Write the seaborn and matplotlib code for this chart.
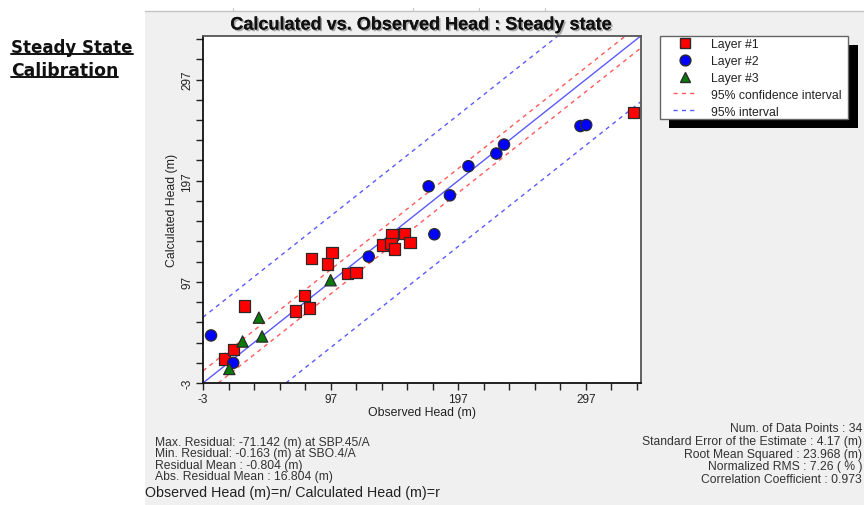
import numpy as np
import pandas as pd
import matplotlib
matplotlib.use("Agg")
import matplotlib.pyplot as plt
import seaborn as sns
from matplotlib.patches import Rectangle
from matplotlib.lines import Line2D
import matplotlib.patheffects as pe

# ---------------- data ----------------
layer1_obs = [13.6, 20.7, 29.3, 69.4, 76.7, 80.3, 81.9, 94.4, 98.0, 110.5, 117.0,
              137.9, 145.2, 144.4, 147.0, 154.8, 159.3, 334.5]
layer1_calc = [20.8, 29.8, 73.2, 68.2, 83.7, 71.2, 119.9, 114.5, 126.1, 105.3, 106.3,
               133.4, 144.0, 135.1, 129.4, 145.0, 136.1, 264.2]
layer2_obs = [3.3, 20.7, 126.9, 178.3, 173.8, 190.5, 205.0, 226.9, 232.9, 292.8, 297.3]
layer2_calc = [44.0, 16.9, 121.9, 144.0, 191.4, 182.5, 211.3, 223.8, 232.7, 251.0, 252.0]
layer3_obs = [17.6, 28.0, 40.8, 43.3, 97.0]
layer3_calc = [10.9, 38.0, 61.6, 43.0, 98.6]

layer_names = ["Layer #1", "Layer #2", "Layer #3"]
conf_offset = 12.0      # 95% confidence interval half-width
pred_offset = 65.0      # 95% interval half-width
tick_labels = ["-3", "97", "197", "297"]

stats_left = ["Max. Residual: -71.142 (m) at SBP.45/A",
              "Min. Residual: -0.163 (m) at SBO.4/A",
              "Residual Mean : -0.804 (m)",
              "Abs. Residual Mean : 16.804 (m)"]
stats_right = ["Num. of Data Points : 34",
               "Standard Error of the Estimate : 4.17 (m)",
               "Root Mean Squared : 23.968 (m)",
               "Normalized RMS : 7.26 ( % )",
               "Correlation Coefficient : 0.973"]

df = pd.DataFrame({
    "obs": layer1_obs + layer2_obs + layer3_obs,
    "calc": layer1_calc + layer2_calc + layer3_calc,
    "layer": [layer_names[0]] * len(layer1_obs) + [layer_names[1]] * len(layer2_obs)
             + [layer_names[2]] * len(layer3_obs),
})

# ---------------- style ----------------
sns.set_style("ticks")
plt.rcParams["font.family"] = ["Liberation Sans", "DejaVu Sans"]

W, H = 864, 506
fx = lambda px: px / W
fy = lambda py: 1 - py / H

fig = plt.figure(figsize=(8.64, 5.06), dpi=100, facecolor="white")

# gray panel
fig.add_artist(Rectangle((fx(145), 0), 1 - fx(145), fy(12), transform=fig.transFigure,
                         facecolor="#f0f0f0", edgecolor="none", zorder=-10))
fig.add_artist(Line2D([fx(145), 1], [fy(12), fy(12)], transform=fig.transFigure,
                      color="#c4c4c4", lw=1, zorder=-9))
for tx in [233, 413, 479, 545]:
    fig.add_artist(Line2D([fx(tx), fx(tx)], [fy(12), fy(9)], transform=fig.transFigure,
                          color="#c4c4c4", lw=0.8, zorder=-9))

ax = fig.add_axes([fx(203), fy(384), (640.7 - 203) / W, (384 - 37) / H])
ax.set_facecolor("white")

lo, hi = -3, 340
ax.set_xlim(lo, hi)
ax.set_ylim(lo, hi)

dash = (0, (3, 3))
ax.axline((0, 0), slope=1, color="#5a5aff", lw=1.0, zorder=2)
for c in (conf_offset, -conf_offset):
    ax.axline((0, c), slope=1, color="#ff5a5a", lw=1.0, ls=dash, zorder=2)
for c in (pred_offset, -pred_offset):
    ax.axline((0, c), slope=1, color="#5a5aff", lw=1.0, ls=dash, zorder=2)

palette = {layer_names[0]: "#ff0000", layer_names[1]: "#0000ff", layer_names[2]: "#0a7a0a"}
markers = {layer_names[0]: "s", layer_names[1]: "o", layer_names[2]: "^"}
sns.scatterplot(data=df, x="obs", y="calc", hue="layer", style="layer",
                palette=palette, markers=markers, s=66, edgecolor="#2a2a2a",
                linewidth=0.9, legend=False, ax=ax, zorder=3, clip_on=False)

ticks = np.arange(-3, 341, 20)
labels = [str(t) if str(int(t)) in tick_labels else "" for t in ticks]
ax.set_xticks(ticks)
ax.set_xticklabels(labels)
ax.set_yticks(ticks)
ax.set_yticklabels(labels, rotation=90, va="center")
ax.tick_params(axis="both", direction="out", length=5, width=1, color="#222222",
               labelsize=8.5, labelcolor="#222222")
ax.tick_params(axis="x", pad=2)
ax.tick_params(axis="y", pad=2)
ax.set_xlabel("Observed Head (m)", fontsize=8.8, color="#222222", labelpad=1)
ax.set_ylabel("Calculated Head (m)", fontsize=8.8, color="#222222", labelpad=2)
for side, sp in ax.spines.items():
    sp.set_visible(True)
    sp.set_linewidth(1.3)
    sp.set_color("#111111" if side in ("left", "bottom") else "#555555")

# title
fig.text(fx(420.5), fy(26), "Calculated vs. Observed Head : Steady state",
         ha="center", va="center", fontsize=13, fontweight="bold", color="#111111",
         path_effects=[pe.withSimplePatchShadow(offset=(1.2, -1.2), shadow_rgbFace="#777777", alpha=0.6),
                       pe.Normal()])

# left heading with underline (underline length follows the rendered text)
h1 = fig.text(fx(11), fy(48), "Steady State", ha="left", va="center", fontsize=12,
              fontweight="bold", color="#111111", family="DejaVu Sans")
h2 = fig.text(fx(11), fy(71), "Calibration", ha="left", va="center", fontsize=12.4,
              fontweight="bold", color="#111111", family="DejaVu Sans")
fig.canvas.draw()
r = fig.canvas.get_renderer()
for t, uy in ((h1, 55), (h2, 78)):
    bb = t.get_window_extent(renderer=r)
    fig.add_artist(Line2D([bb.x0 / W, bb.x1 / W], [fy(uy), fy(uy)], transform=fig.transFigure,
                          color="#111111", lw=1.4))

# legend frame with black shadow
fig.add_artist(Rectangle((fx(669), fy(129)), (858 - 669) / W, (129 - 46) / H,
                         transform=fig.transFigure, facecolor="black", edgecolor="none", zorder=1))
fig.add_artist(Rectangle((fx(660), fy(120)), (848 - 660) / W, (120 - 37) / H,
                         transform=fig.transFigure, facecolor="white", edgecolor="#666666",
                         lw=1.0, zorder=2))
handles = [
    Line2D([], [], marker="s", color="#ff0000", markeredgecolor="#2a2a2a", ls="none", markersize=7.8),
    Line2D([], [], marker="o", color="#0000ff", markeredgecolor="#2a2a2a", ls="none", markersize=7.8),
    Line2D([], [], marker="^", color="#0a7a0a", markeredgecolor="#2a2a2a", ls="none", markersize=7.8),
    Line2D([], [], color="#ff5a5a", lw=1.0, ls=dash),
    Line2D([], [], color="#5a5aff", lw=1.0, ls=dash),
]
leg_labels = layer_names + ["95% confidence interval", "95% interval"]
leg = fig.legend(handles, leg_labels, loc="upper left", bbox_to_anchor=(fx(673), fy(39)),
                 frameon=False, borderpad=0, borderaxespad=0, handlelength=2.0,
                 handletextpad=1.1, labelspacing=0.4, fontsize=8.8)
leg.set_zorder(5)
for t in leg.get_texts():
    t.set_color("#222222")

# statistics
for i, s in enumerate(stats_left):
    fig.text(fx(155), fy(442.7 + i * 11.6), s, ha="left", va="center", fontsize=8.7, color="#333333")
for i, s in enumerate(stats_right):
    fig.text(fx(862), fy(429.3 + i * 12.65), s, ha="right", va="center", fontsize=8.7, color="#333333")
fig.text(fx(145), fy(493), "Observed Head (m)=n/ Calculated Head (m)=r", ha="left", va="center",
         fontsize=10.3, color="#222222")

fig.savefig("out.png", dpi=100, facecolor=fig.get_facecolor())
